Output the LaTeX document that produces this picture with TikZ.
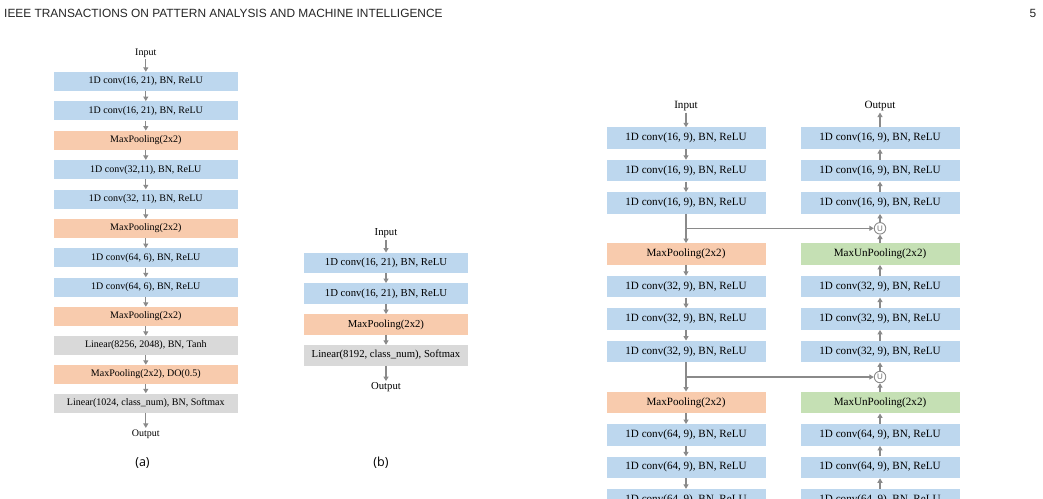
\documentclass[tikz,border=0pt]{standalone}
\usepackage{fontspec}
\setmainfont{Liberation Serif}
\newfontfamily\hdrfont{Liberation Sans}
\newfontfamily\capfont{Open Sans}
\usetikzlibrary{arrows.meta}
\definecolor{cblue}{HTML}{BDD7EE}
\definecolor{corange}{HTML}{F8CBAD}
\definecolor{cgray}{HTML}{D9D9D9}
\definecolor{cgreen}{HTML}{C5E0B4}
\definecolor{arrcol}{HTML}{8A8A8A}
\begin{document}
\begin{tikzpicture}[x=1pt,y=-1pt,
  flow/.style={draw=arrcol,line width=1.3pt,-{Triangle[length=4.5pt,width=5pt]}},
  boxa/.style={minimum width=183.5pt,minimum height=19pt,inner sep=0pt,font=\fontsize{10}{12}\selectfont},
  boxb/.style={minimum width=163.5pt,minimum height=20.5pt,inner sep=0pt,font=\fontsize{10.7}{12.8}\selectfont},
  boxc/.style={minimum width=159pt,minimum height=21.5pt,inner sep=0pt,font=\fontsize{11.1}{13.3}\selectfont},
  conv/.style={fill=cblue},
  pool/.style={fill=corange},
  lin/.style={fill=cgray},
  unpool/.style={fill=cgreen},
  lbla/.style={inner sep=1.5pt,font=\fontsize{10}{12}\selectfont},
  lblb/.style={inner sep=1.5pt,font=\fontsize{10.7}{12.8}\selectfont},
  lblc/.style={inner sep=1.5pt,font=\fontsize{11.1}{13.3}\selectfont},
  uni/.style={circle,draw=arrcol,line width=0.9pt,fill=white,minimum size=11.5pt,inner sep=0pt,text=arrcol!80!black,font=\hdrfont\fontsize{8}{8}\selectfont},
  subcap/.style={font=\capfont\fontsize{12.5}{15}\selectfont}
]
\clip (0,0) rectangle (1043,498);
\fill[white] (0,0) rectangle (1043,498);

% header
\node[anchor=base west,inner sep=0pt,font=\hdrfont\fontsize{11.9}{14}\selectfont,text=black!85] (hdr) at (4,17) {IEEE TRANSACTIONS ON PATTERN ANALYSIS AND MACHINE INTELLIGENCE};
\node[anchor=base east,inner sep=0pt,font=\hdrfont\fontsize{11.9}{14}\selectfont,text=black!85] (pg) at (1036.5,17) {5};

% ---------- panel (a)
\node[lbla] (ain) at (145.8,53) {Input};
\node[boxa,conv] (a1) at (145.8,81.5) {1D conv(16, 21), BN, ReLU};
\node[boxa,conv] (a2) at (145.8,110.8) {1D conv(16, 21), BN, ReLU};
\node[boxa,pool] (a3) at (145.8,140.3) {MaxPooling(2x2)};
\node[boxa,conv] (a4) at (145.8,169.6) {1D conv(32,11), BN, ReLU};
\node[boxa,conv] (a5) at (145.8,199) {1D conv(32, 11), BN, ReLU};
\node[boxa,pool] (a6) at (145.8,228.5) {MaxPooling(2x2)};
\node[boxa,conv] (a7) at (145.8,257.8) {1D conv(64, 6), BN, ReLU};
\node[boxa,conv] (a8) at (145.8,287) {1D conv(64, 6), BN, ReLU};
\node[boxa,pool] (a9) at (145.8,316.5) {MaxPooling(2x2)};
\node[boxa,lin] (a10) at (145.8,345.5) {Linear(8256, 2048), BN, Tanh};
\node[boxa,pool] (a11) at (145.8,374.5) {MaxPooling(2x2), DO(0.5)};
\node[boxa,lin] (a12) at (145.8,403) {Linear(1024, class\_num), BN, Softmax};
\node[lbla] (aout) at (145.8,434) {Output};
\foreach \p/\q in {ain/a1,a1/a2,a2/a3,a3/a4,a4/a5,a5/a6,a6/a7,a7/a8,a8/a9,a9/a10,a10/a11,a11/a12,a12/aout}
  \draw[flow] (\p) -- (\q);
\node[subcap] (capa) at (142.5,463) {(a)};

% ---------- panel (b)
\node[lblb] (bin) at (386,233.5) {Input};
\node[boxb,conv] (b1) at (386,263) {1D conv(16, 21), BN, ReLU};
\node[boxb,conv] (b2) at (386,293.5) {1D conv(16, 21), BN, ReLU};
\node[boxb,pool] (b3) at (386,324.5) {MaxPooling(2x2)};
\node[boxb,lin] (b4) at (386,355.3) {Linear(8192, class\_num), Softmax};
\node[lblb] (bout) at (386,387.5) {Output};
\foreach \p/\q in {bin/b1,b1/b2,b2/b3,b3/b4,b4/bout}
  \draw[flow] (\p) -- (\q);
\node[subcap] (capb) at (381,463) {(b)};

% ---------- panel (c) left (encoder)
\node[lblc] (cin) at (686,106) {Input};
\node[boxc,conv] (l1) at (686,138.2) {1D conv(16, 9), BN, ReLU};
\node[boxc,conv] (l2) at (686,170.7) {1D conv(16, 9), BN, ReLU};
\node[boxc,conv] (l3) at (686,203) {1D conv(16, 9), BN, ReLU};
\node[boxc,pool] (l4) at (686,254) {MaxPooling(2x2)};
\node[boxc,conv] (l5) at (686,286.7) {1D conv(32, 9), BN, ReLU};
\node[boxc,conv] (l6) at (686,319) {1D conv(32, 9), BN, ReLU};
\node[boxc,conv] (l7) at (686,351.5) {1D conv(32, 9), BN, ReLU};
\node[boxc,pool] (l8) at (686,402.5) {MaxPooling(2x2)};
\node[boxc,conv] (l9) at (686,435) {1D conv(64, 9), BN, ReLU};
\node[boxc,conv] (l10) at (686,467.3) {1D conv(64, 9), BN, ReLU};
\node[boxc,conv] (l11) at (686,499.8) {1D conv(64, 9), BN, ReLU};
\foreach \p/\q in {cin/l1,l1/l2,l2/l3,l3/l4,l4/l5,l5/l6,l6/l7,l7/l8,l8/l9,l9/l10,l10/l11}
  \draw[flow] (\p) -- (\q);

% ---------- panel (c) right (decoder)
\node[lblc] (cout) at (880,106) {Output};
\node[boxc,conv] (r1) at (880,138.2) {1D conv(16, 9), BN, ReLU};
\node[boxc,conv] (r2) at (880,170.7) {1D conv(16, 9), BN, ReLU};
\node[boxc,conv] (r3) at (880,203) {1D conv(16, 9), BN, ReLU};
\node[uni] (u1) at (880,228.3) {U};
\node[boxc,unpool] (r4) at (880,254) {MaxUnPooling(2x2)};
\node[boxc,conv] (r5) at (880,286.7) {1D conv(32, 9), BN, ReLU};
\node[boxc,conv] (r6) at (880,319) {1D conv(32, 9), BN, ReLU};
\node[boxc,conv] (r7) at (880,351.5) {1D conv(32, 9), BN, ReLU};
\node[uni] (u2) at (880,377) {U};
\node[boxc,unpool] (r8) at (880,402.5) {MaxUnPooling(2x2)};
\node[boxc,conv] (r9) at (880,435) {1D conv(64, 9), BN, ReLU};
\node[boxc,conv] (r10) at (880,467.3) {1D conv(64, 9), BN, ReLU};
\node[boxc,conv] (r11) at (880,499.8) {1D conv(64, 9), BN, ReLU};
\foreach \p/\q in {r1/cout,r2/r1,r3/r2,u1/r3,r4/u1,r5/r4,r6/r5,r7/r6,u2/r7,r8/u2,r9/r8,r10/r9,r11/r10}
  \draw[flow] (\p) -- (\q);

% skip connections
\draw[flow] (l3.south |- u1) -- (u1.west);
\draw[flow] (l7.south |- u2) -- (u2.west);
\end{tikzpicture}
\end{document}
